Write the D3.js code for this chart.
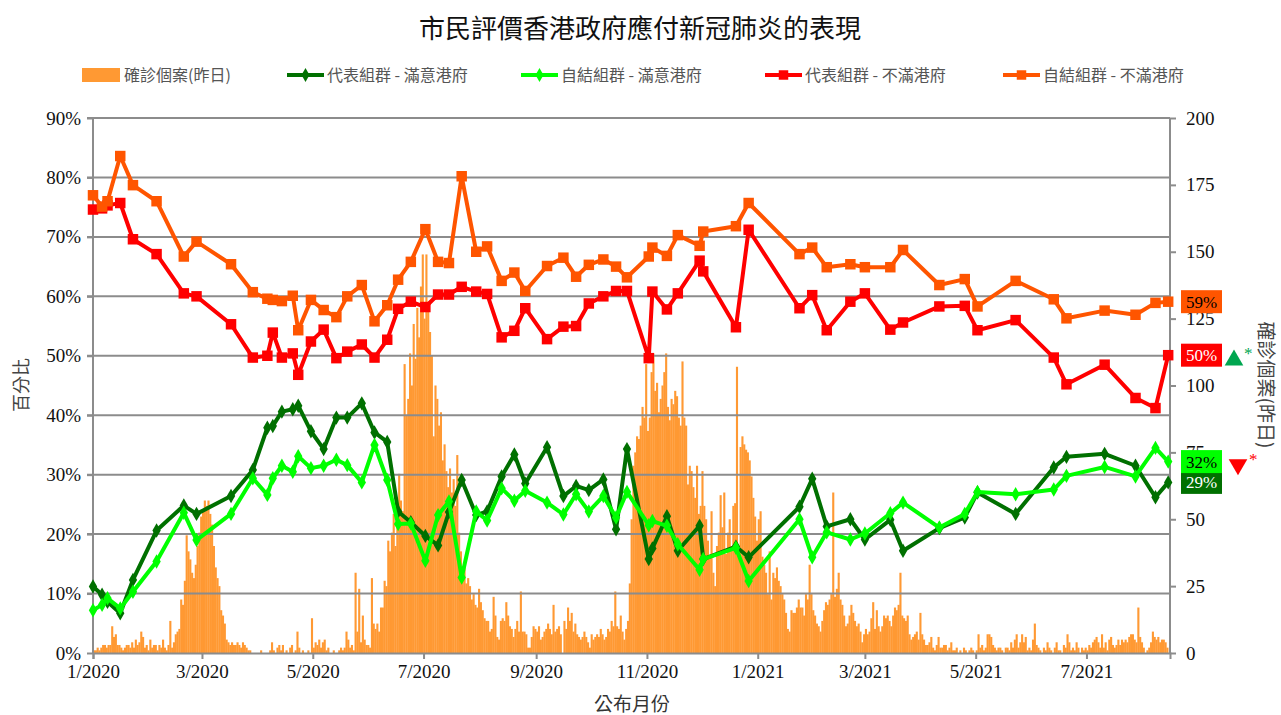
<!DOCTYPE html>
<html>
<head>
<meta charset="utf-8">
<script src="https://d3js.org/d3.v7.min.js"></script>
<style>
  body { margin: 0; background: #fff; }
  text { font-family: "Liberation Serif", "Noto Sans CJK TC", serif; }
  .cjk { font-family: "Noto Sans CJK TC", sans-serif; }
</style>
</head>
<body>
<div id="graph"></div>
<script>
'use strict';

// daily confirmed cases (previous day), one value per day from 2020-01-01
const caseStart = "2020-01-01";
const dailyCases = [
  // Jan 2020
  1,1,2,1,2, 3,3,2,3,3, 10,6,7,3,3, 2,1,2,3,3, 2,4,2,5,3, 4,8,6,2,3, 1,
  // Feb
  5,2,3,3,1, 3,2,5,2,1, 3,12,2,4,7, 8,9,20,18,27, 44,38,35,30,28, 33,40,45,51,
  // Mar
  53,57,55,57,52, 48,40,32,28,25, 16,14,11,5,4, 3,4,3,3,4, 3,2,4,3,2, 1,1,0,0,0, 0,
  // Apr
  0,1,0,0,0, 0,1,4,1,0, 2,3,1,3,0, 1,0,2,3,0, 1,8,2,0,1, 0,0,1,0,13,
  // May
  2,4,3,5,2, 4,5,1,2,0, 0,1,0,0,1, 2,1,2,8,5, 2,3,1,30,8, 24,4,14,5,3, 3,
  // Jun
  2,28,11,9,11, 8,17,17,27,25, 42,38,45,52,40, 48,67,57,53,108, 89,95,112,100,123, 110,129,118,137,149,
  // Jul
  125,149,131,120,111, 81,100,95,85,90, 72,78,68,62,69, 60,65,55,74,45, 38,30,33,26,28, 25,20,22,18,17, 24,
  // Aug
  19,16,13,12,12, 8,9,21,14,6, 5,12,13,12,19, 14,10,9,6,9, 12,8,23,8,8, 7,2,2,6,10, 9,
  // Sep
  8,10,5,6,8, 9,11,9,7,18, 8,9,10,7,0, 12,9,17,12,15, 8,11,7,6,5, 6,8,6,4,2,
  // Oct
  7,5,6,7,6, 9,7,5,6,9, 8,12,10,23,10, 9,14,8,5,9, 12,26,50,70,75, 81,80,85,92,88, 108,
  // Nov
  83,88,105,112,98, 101,90,95,100,105, 112,92,87,95,93, 98,96,88,85,109, 88,85,63,70,68, 62,58,70,52,55,
  // Dec
  68,55,50,42,36, 53,30,25,40,45, 59,47,60,37,45, 50,40,55,56,107, 40,77,81,78,76, 75,72,66,58,51, 42,
  // Jan 2021
  50,53,36,33,30, 22,38,20,30,28, 32,27,25,22,20, 15,9,8,16,15, 15,17,20,17,17, 14,22,20,33,22, 16,
  // Feb
  14,11,10,8,12, 16,19,18,20,22, 60,21,24,30,20, 18,14,10,11,14, 18,15,12,10,11, 8,4,7,
  // Mar
  9,7,8,13,19, 9,16,10,8,10, 14,13,14,12,10, 14,17,16,18,30, 14,13,12,14,7, 5,6,7,8,5, 15,
  // Apr
  7,5,3,3,4, 6,2,1,3,6, 2,2,3,3,1, 2,4,1,1,2, 0,1,0,2,1, 0,1,2,1,0,
  // May
  1,7,2,3,1, 2,7,7,6,3, 2,1,2,2,1, 0,2,2,1,4, 2,5,7,2,4, 7,4,6,1,2, 1,
  // Jun
  5,11,3,2,1, 0,2,1,4,2, 1,0,2,4,1, 1,0,3,2,7, 4,1,2,1,4, 2,0,2,1,2,
  // Jul
  1,3,2,4,5, 6,4,2,7,2, 4,1,5,6,3, 2,3,5,3,5, 4,5,4,6,7, 7,5,4,17,6, 4,
  // Aug
  2,0,1,2,4, 8,6,5,6,4, 5,5,4,2
];

// survey release dates
const surveyDates = [
  "2020-01-01","2020-01-06","2020-01-09","2020-01-16","2020-01-23","2020-02-05","2020-02-20","2020-02-27",
  "2020-03-17","2020-03-29","2020-04-06","2020-04-09","2020-04-14","2020-04-20","2020-04-23","2020-04-30",
  "2020-05-07","2020-05-14","2020-05-20","2020-05-28","2020-06-04","2020-06-11","2020-06-17","2020-06-24",
  "2020-07-02","2020-07-09","2020-07-15","2020-07-22","2020-07-30","2020-08-05","2020-08-13","2020-08-20",
  "2020-08-26","2020-09-07","2020-09-16","2020-09-23","2020-09-30","2020-10-08","2020-10-15","2020-10-21",
  "2020-11-02","2020-11-04","2020-11-12","2020-11-18","2020-11-30","2020-12-02","2020-12-20","2020-12-27",
  "2021-01-24","2021-01-31","2021-02-08","2021-02-21","2021-03-01","2021-03-15","2021-03-22","2021-04-11",
  "2021-04-25","2021-05-02","2021-05-23","2021-06-13","2021-06-20","2021-07-11","2021-07-28","2021-08-08",
  "2021-08-15"
];

// 代表組群 - 滿意港府 (%)
const repSatisfied = [
  11.2,9.8,8.6,6.7,12.3,20.6,24.8,23.4, 26.4,30.8,37.9,38.2,40.6,41.0,41.6,37.3,
  34.3,39.6,39.6,42.0,37.1,35.5,23.8,22.0, 19.7,18.1,23.7,29.1,23.2,23.8,29.7,33.4,
  28.5,34.6,26.4,28.1,27.4,29.2,20.8,34.3, 15.8,17.6,23.0,17.2,21.4,15.8,17.9,16.1,
  24.6,29.3,21.3,22.5,19.1,22.4,17.2,21.0, 22.8,27.0,23.4,31.2,33.0,33.5,31.5,26.2,
  28.7
];
// 自結組群 - 滿意港府 (%)
const selfSatisfied = [
  7.2,8.1,9.2,7.5,10.3,15.4,23.6,19.0, 23.4,29.4,26.6,29.4,31.5,30.5,33.1,31.1,
  31.5,32.5,31.6,28.7,35.0,29.1,21.7,21.8, 15.5,23.2,25.5,12.7,23.8,22.3,27.7,25.6,
  27.3,25.3,23.3,26.7,23.8,26.4,22.8,27.1, 21.5,22.2,21.4,18.3,14.0,15.8,17.7,12.1,
  22.5,16.1,20.3,19.1,20.1,23.5,25.3,21.1, 23.4,27.1,26.7,27.5,29.8,31.3,29.7,34.5,
  32.2
];
// 代表組群 - 不滿港府 (%)
const repDissatisfied = [
  74.6,74.8,75.3,75.7,69.6,67.1,60.5,60.0, 55.3,49.7,50.0,53.9,49.7,50.4,46.8,52.4,
  54.4,49.6,50.7,51.9,49.7,52.7,57.9,59.1, 58.2,60.3,60.3,61.6,60.8,60.4,53.1,54.2,
  58.0,52.8,54.9,55.0,58.8,60.0,60.9,60.9, 49.6,60.8,57.8,60.5,66.0,64.2,54.8,71.2,
  58.0,60.2,54.3,59.1,60.5,54.4,55.6,58.3, 58.4,54.3,56.0,49.7,45.2,48.5,42.9,41.2,
  50.1
];
// 自結組群 - 不滿港府 (%)
const selfDissatisfied = [
  77.0,75.1,76.0,83.6,78.7,76.0,66.7,69.2, 65.4,60.7,59.6,59.4,59.2,60.1,54.3,59.4,
  57.7,56.5,60.0,61.9,55.8,58.5,62.8,65.8, 71.3,65.8,65.6,80.2,67.5,68.4,62.6,64.0,
  60.9,65.1,66.5,63.3,65.3,66.2,65.0,63.2, 66.7,68.2,66.8,70.3,68.5,70.9,71.8,75.7,
  67.1,68.2,64.9,65.4,64.9,64.9,67.8,61.9, 62.9,58.3,62.6,59.5,56.3,57.6,56.9,58.9,
  59.1
];

const pctTicks = [0, 10, 20, 30, 40, 50, 60, 70, 80, 90];
const caseTicks = [0, 25, 50, 75, 100, 125, 150, 175, 200];
const monthTicks = ["2020-01-01","2020-03-01","2020-05-01","2020-07-01","2020-09-01","2020-11-01",
                    "2021-01-01","2021-03-01","2021-05-01","2021-07-01"];

const seriesNames = ["確診個案(昨日)", "代表組群 - 滿意港府", "自結組群 - 滿意港府",
                     "代表組群 - 不滿港府", "自結組群 - 不滿港府"];
const barColor = "#FF9933";
const lineSeries = [
  { name: seriesNames[1], values: repSatisfied,     color: "#007000", marker: "diamond", labelText: "#fff" },
  { name: seriesNames[2], values: selfSatisfied,    color: "#00FF00", marker: "diamond", labelText: "#000" },
  { name: seriesNames[3], values: repDissatisfied,  color: "#FF0000", marker: "square",  labelText: "#fff" },
  { name: seriesNames[4], values: selfDissatisfied, color: "#FF5500", marker: "square",  labelText: "#000" }
];

(function() {
  let svg = "";
  const W = 1281, H = 715;
  const left = 93, right = 1170, top = 118, bottom = 653;
  const parse = d3.utcParse("%Y-%m-%d");
  const gridColor = "#8c8c8c";

  window.onload = function() {
    svg = d3.select('#graph').append('svg')
      .attr('width', W)
      .attr('height', H);
    draw();
  };

  function draw() {
    const x = d3.scaleUtc()
      .domain([parse("2020-01-01"), parse("2021-08-16")])
      .range([left, right]);
    const yPct = d3.scaleLinear().domain([0, 90]).range([bottom, top]);
    const yCase = d3.scaleLinear().domain([0, 200]).range([bottom, top]);

    // daily case bars
    const start = parse(caseStart);
    const bars = dailyCases.map((v, i) => ({ day: d3.utcDay.offset(start, i), v: v }));
    svg.append('g').selectAll('rect')
      .data(bars)
      .enter()
      .append('rect')
        .attr('x', d => x(d.day))
        .attr('width', d => x(d3.utcDay.offset(d.day, 1)) - x(d.day) + 0.3)
        .attr('y', d => yCase(d.v))
        .attr('height', d => bottom - yCase(d.v))
        .style('fill', barColor);

    // gridlines
    svg.append('g').selectAll('line')
      .data(pctTicks.slice(1))
      .enter()
      .append('line')
        .attr('x1', left - 6).attr('x2', right)
        .attr('y1', d => yPct(d)).attr('y2', d => yPct(d))
        .style('stroke', gridColor).style('stroke-width', 2);

    // axes
    const leftAxis = d3.axisLeft(yPct).tickValues(pctTicks).tickFormat(d => d + "%").tickSize(6).tickPadding(6);
    const gl = svg.append('g').attr('transform', `translate(${left},0)`).call(leftAxis);
    const rightAxis = d3.axisRight(yCase).tickValues(caseTicks).tickSize(6).tickPadding(10);
    const gr = svg.append('g').attr('transform', `translate(${right},0)`).call(rightAxis);
    const bottomAxis = d3.axisBottom(x).tickValues(monthTicks.map(parse))
      .tickFormat(d3.utcFormat("%-m/%Y")).tickSize(6).tickPadding(6);
    const gb = svg.append('g').attr('transform', `translate(0,${bottom})`).call(bottomAxis);
    [gl, gr, gb].forEach(g => {
      g.attr('font-family', null);
      g.selectAll('path').style('stroke', gridColor).style('stroke-width', 2);
      g.selectAll('line').style('stroke', gridColor).style('stroke-width', 2);
      g.selectAll('text').style('font-family', '"Liberation Serif", "Times New Roman", serif')
        .style('font-size', '19px').style('fill', '#111');
    });
    gl.select('.domain').attr('d', `M0,${bottom}V${top}`);
    gr.select('.domain').attr('d', `M0,${bottom}V${top}`);

    // lines with markers
    const dates = surveyDates.map(parse);
    lineSeries.forEach(s => {
      const pts = s.values.map((v, i) => ({ t: dates[i], v: v }));
      const line = d3.line().x(d => x(d.t)).y(d => yPct(d.v));
      svg.append('path')
        .datum(pts)
        .attr('d', line)
        .style('fill', 'none')
        .style('stroke', s.color)
        .style('stroke-width', 4)
        .style('stroke-linejoin', 'round');
      const sym = s.marker === "square"
        ? d3.symbol().type(d3.symbolSquare).size(110)
        : d3.symbol().type(d3.symbolDiamond).size(60);
      svg.append('g').selectAll('path')
        .data(pts)
        .enter()
        .append('path')
          .attr('d', sym)
          .attr('transform', d => `translate(${x(d.t)},${yPct(d.v)})`)
          .style('fill', s.color);
    });

    // end labels
    lineSeries.forEach(s => {
      const last = s.values[s.values.length - 1];
      let cy = yPct(last);
      svg.append('rect')
        .attr('x', 1181).attr('y', cy - 11.5)
        .attr('width', 41).attr('height', 23)
        .style('fill', s.color);
      svg.append('text')
        .attr('x', 1201.5).attr('y', cy + 6)
        .attr('text-anchor', 'middle')
        .style('font-size', '17px')
        .style('fill', s.labelText)
        .text(Math.round(last) + "%");
    });

    // change markers
    const up = repDissatisfied[repDissatisfied.length - 1];
    const down = selfSatisfied[selfSatisfied.length - 1];
    svg.append('path')
      .attr('d', d3.symbol().type(d3.symbolTriangle).size(150))
      .attr('transform', `translate(1234,${yPct(up) + 5})`)
      .style('fill', '#00a650');
    svg.append('text').attr('x', 1244).attr('y', yPct(up) + 4)
      .style('font-size', '17px').style('fill', '#00a650').text('*');
    svg.append('path')
      .attr('d', d3.symbol().type(d3.symbolTriangle).size(150))
      .attr('transform', `translate(1238,${yPct(down) + 3}) rotate(180)`)
      .style('fill', '#ff0000');
    svg.append('text').attr('x', 1249).attr('y', yPct(down) + 3)
      .style('font-size', '17px').style('fill', '#ff0000').text('*');

    makeLabels();
    drawLegend();
  }

  function makeLabels() {
    svg.append('text')
      .attr('class', 'cjk')
      .attr('x', 640).attr('y', 38)
      .attr('text-anchor', 'middle')
      .style('font-size', '26px')
      .style('fill', '#111')
      .text("市民評價香港政府應付新冠肺炎的表現");

    svg.append('text')
      .attr('class', 'cjk')
      .attr('x', 632).attr('y', 711)
      .attr('text-anchor', 'middle')
      .style('font-size', '19px')
      .style('fill', '#333')
      .text('公布月份');

    svg.append('text')
      .attr('class', 'cjk')
      .attr('transform', 'translate(28, 385)rotate(-90)')
      .attr('text-anchor', 'middle')
      .style('font-size', '18px')
      .style('fill', '#444')
      .text('百分比');

    svg.append('text')
      .attr('class', 'cjk')
      .attr('transform', 'translate(1259, 385)rotate(90)')
      .attr('text-anchor', 'middle')
      .style('font-size', '19px')
      .style('fill', '#444')
      .text('確診個案(昨日)');
  }

  function drawLegend() {
    const items = [
      { name: seriesNames[0], x: 82, color: barColor, kind: "bar" },
      { name: seriesNames[1], x: 287, color: lineSeries[0].color, kind: "diamond" },
      { name: seriesNames[2], x: 521, color: lineSeries[1].color, kind: "diamond" },
      { name: seriesNames[3], x: 765, color: lineSeries[2].color, kind: "square" },
      { name: seriesNames[4], x: 1003, color: lineSeries[3].color, kind: "square" }
    ];
    const ly = 75;
    const g = svg.append('g');
    items.forEach(it => {
      if (it.kind === "bar") {
        g.append('rect').attr('x', it.x).attr('y', ly - 7).attr('width', 38).attr('height', 14)
          .style('fill', it.color);
      } else {
        g.append('line').attr('x1', it.x).attr('x2', it.x + 37).attr('y1', ly).attr('y2', ly)
          .style('stroke', it.color).style('stroke-width', 4);
        const sym = it.kind === "square"
          ? d3.symbol().type(d3.symbolSquare).size(90)
          : d3.symbol().type(d3.symbolDiamond).size(55);
        g.append('path').attr('d', sym).attr('transform', `translate(${it.x + 18.5},${ly})`)
          .style('fill', it.color);
      }
      g.append('text')
        .attr('class', 'cjk')
        .attr('x', it.x + (it.kind === "bar" ? 42 : 40))
        .attr('y', ly + 6)
        .style('font-size', '16px')
        .style('fill', '#555')
        .text(it.name);
    });
  }
})();
</script>
</body>
</html>
